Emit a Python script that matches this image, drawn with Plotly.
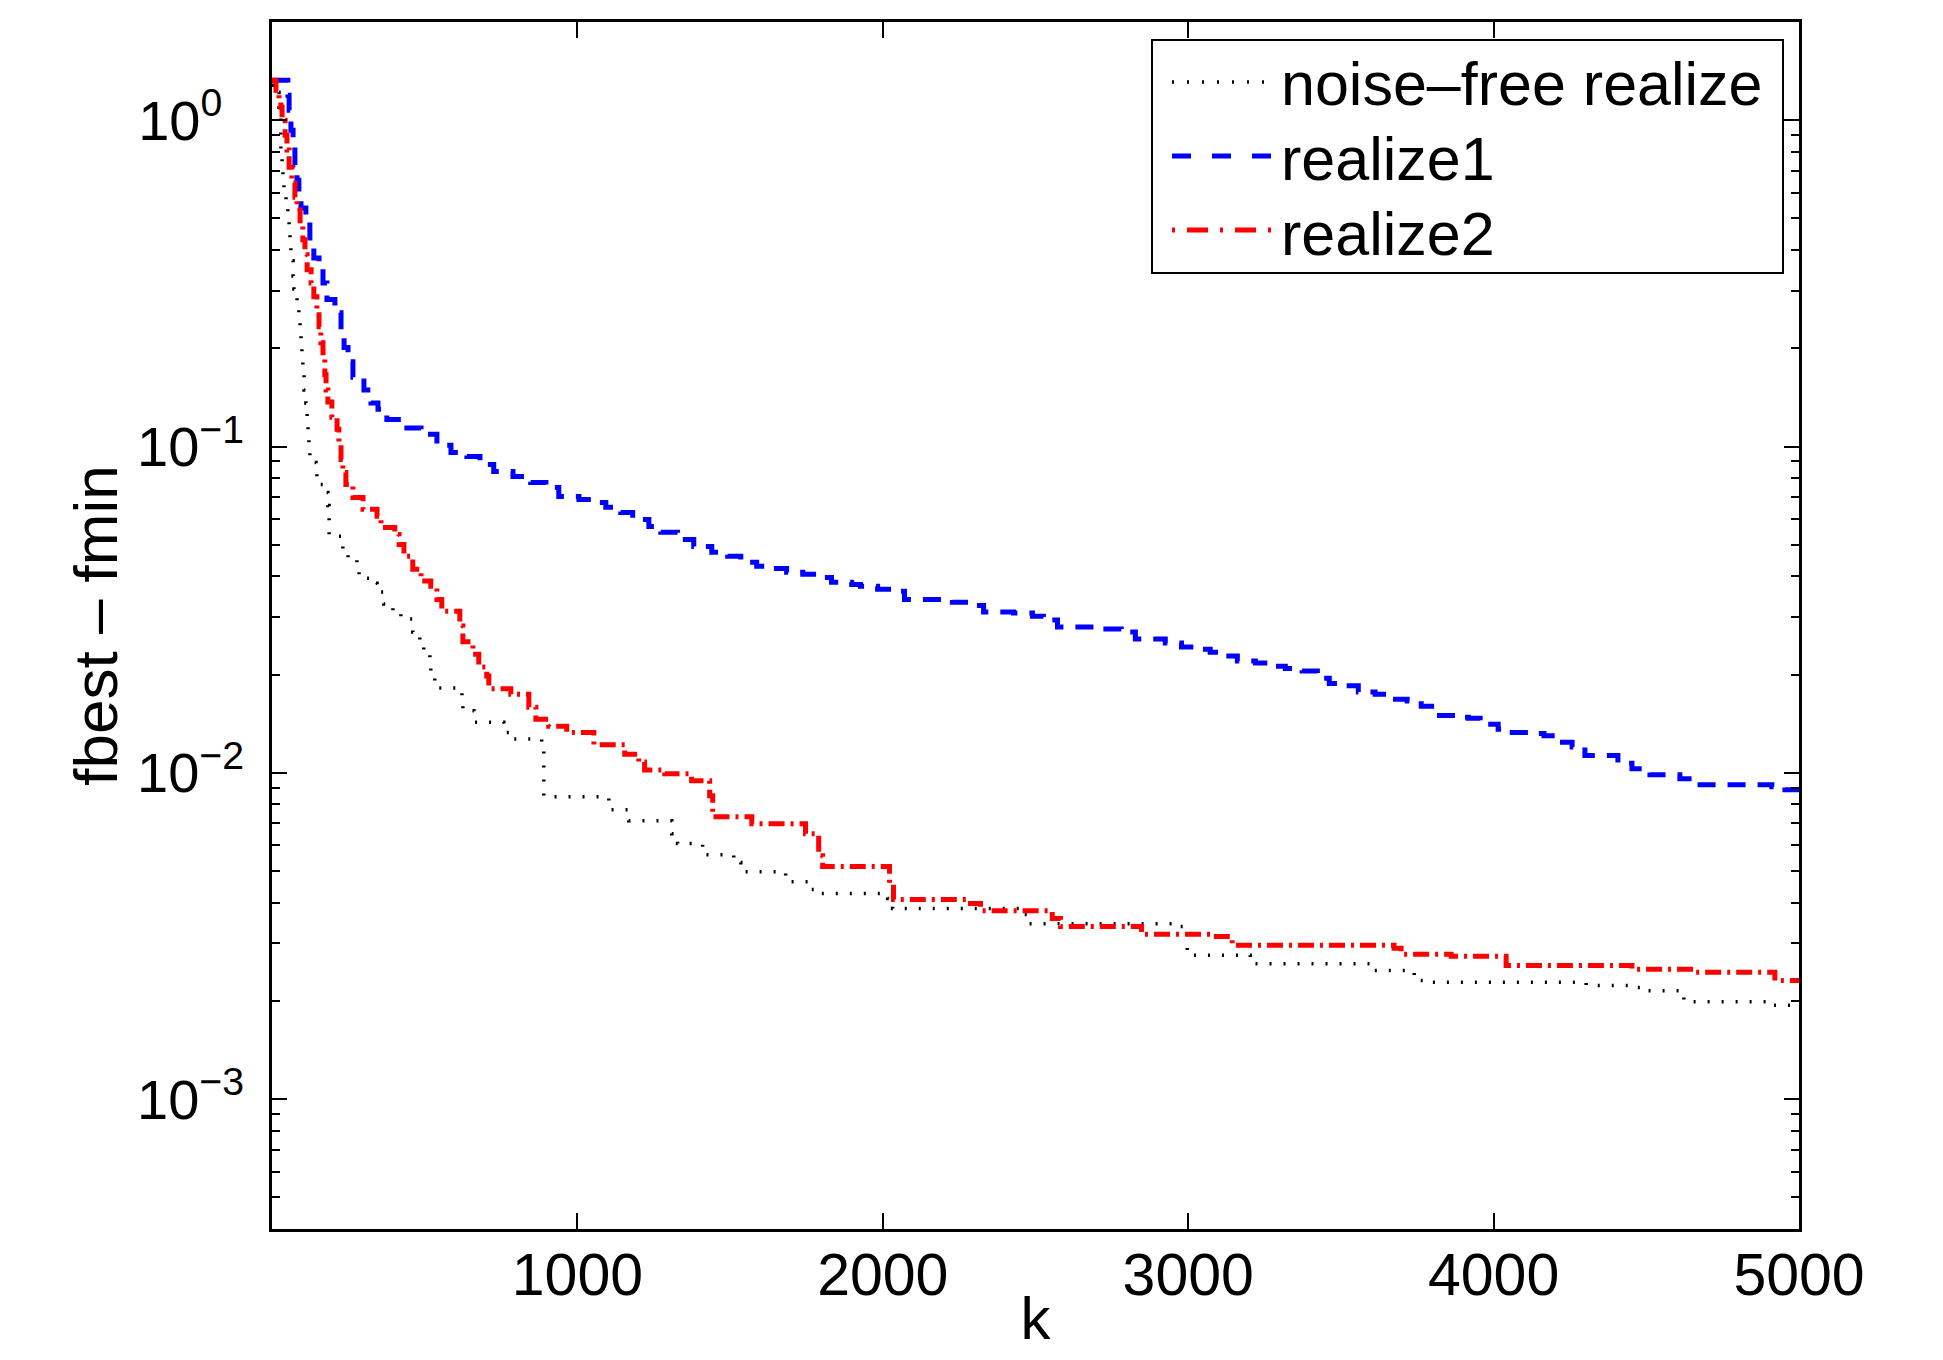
import plotly.graph_objects as go

# ---------------- data ----------------
noise_free_k = [0, 16, 23, 29, 33, 36, 39, 46, 52, 56, 59, 62, 69, 72, 82, 88, 92, 95, 98, 101,
                105, 111, 115, 118, 121, 124, 144, 147, 170, 183, 187, 226, 232, 249, 278, 285,
                321, 344, 366, 396, 422, 461, 484, 497, 517, 520, 533, 622, 625, 661, 759, 789,
                883, 890, 1103, 1168, 1309, 1328, 1410, 1512, 1535, 1682, 1701, 1760, 1796, 2016,
                2032, 2454, 2480, 2968, 2997, 3203, 3599, 3740, 3786, 4303, 4453, 4499, 4623,
                4895, 5000]
noise_free_v = [1.280, 1.218, 1.096, 0.815, 0.729, 0.655, 0.586, 0.534, 0.505, 0.455, 0.406,
                0.371, 0.333, 0.304, 0.278, 0.250, 0.226, 0.204, 0.186, 0.166, 0.149, 0.136,
                0.123, 0.110, 0.0986, 0.0894, 0.0851, 0.0765, 0.0723, 0.0660, 0.0531, 0.0519,
                0.0471, 0.0458, 0.0433, 0.0395, 0.0381, 0.0358, 0.0329, 0.0311, 0.0296, 0.0270,
                0.0255, 0.0234, 0.0218, 0.0197, 0.0182, 0.0172, 0.0155, 0.0143, 0.0133, 0.0127,
                0.0123, 0.00845, 0.00771, 0.00713, 0.00651, 0.00607, 0.00561, 0.00531, 0.00498,
                0.00484, 0.00464, 0.00439, 0.00427, 0.00412, 0.00384, 0.00368, 0.00345, 0.00338,
                0.00276, 0.00260, 0.00248, 0.00231, 0.00228, 0.00223, 0.00220, 0.00215, 0.00199,
                0.00194, 0.00194]

realize1_k = [0, 52, 56, 62, 69, 75, 82, 88, 95, 111, 124, 137, 154, 167, 180, 206, 226, 236, 249,
              265, 301, 324, 347, 376, 422, 488, 540, 586, 638, 681, 726, 789, 847, 897, 939,
              1005, 1044, 1093, 1142, 1181, 1234, 1273, 1328, 1381, 1440, 1492, 1535, 1587, 1636,
              1685, 1738, 1787, 1832, 1898, 1927, 1983, 2032, 2071, 2228, 2281, 2330, 2428, 2490,
              2526, 2572, 2722, 2781, 2827, 2925, 2978, 3023, 3072, 3115, 3161, 3220, 3269, 3318,
              3373, 3423, 3462, 3514, 3557, 3612, 3661, 3717, 3763, 3809, 3874, 3917, 3956, 4015,
              4061, 4113, 4165, 4211, 4257, 4299, 4407, 4453, 4512, 4610, 4656, 4911, 4954, 5000]
realize1_v = [1.325, 1.192, 1.073, 0.932, 0.827, 0.729, 0.655, 0.590, 0.538, 0.494, 0.424, 0.378,
              0.343, 0.317, 0.282, 0.257, 0.228, 0.201, 0.182, 0.163, 0.149, 0.136, 0.130, 0.121,
              0.114, 0.109, 0.101, 0.0959, 0.0932, 0.0881, 0.0838, 0.0810, 0.0776, 0.0749,
              0.0703, 0.0688, 0.0674, 0.0651, 0.0628, 0.0598, 0.0569, 0.0546, 0.0519, 0.0494,
              0.0474, 0.0461, 0.0442, 0.0430, 0.0423, 0.0412, 0.0406, 0.0397, 0.0384, 0.0378,
              0.0373, 0.0365, 0.0360, 0.0340, 0.0333, 0.0326, 0.0311, 0.0309, 0.0302, 0.0294,
              0.0280, 0.0276, 0.0270, 0.0257, 0.0250, 0.0243, 0.0239, 0.0234, 0.0228, 0.0220,
              0.0217, 0.0212, 0.0209, 0.0205, 0.0195, 0.0188, 0.0185, 0.0177, 0.0174, 0.0168,
              0.0166, 0.0160, 0.0150, 0.0148, 0.0147, 0.0141, 0.0136, 0.0133, 0.0132, 0.0130,
              0.0124, 0.0120, 0.0113, 0.0107, 0.0103, 0.00986, 0.00959, 0.00919, 0.00906,
              0.00887, 0.00887]

realize2_k = [0, 13, 23, 29, 33, 43, 49, 56, 65, 75, 82, 92, 101, 108, 115, 128, 137, 147, 154,
              160, 167, 173, 177, 183, 196, 213, 219, 226, 232, 242, 265, 298, 344, 357, 402, 416,
              432, 461, 488, 520, 540, 556, 615, 625, 658, 677, 703, 710, 782, 841, 864, 906, 965,
              1054, 1155, 1201, 1220, 1286, 1374, 1433, 1443, 1571, 1747, 1790, 1803, 2022, 2035,
              2274, 2320, 2555, 2582, 2847, 3072, 3144, 3674, 3697, 3861, 4041, 4453, 4659, 4921,
              5000]
realize2_v = [1.325, 1.235, 1.151, 1.096, 1.000, 0.900, 0.810, 0.718, 0.642, 0.581, 0.531, 0.478,
              0.430, 0.387, 0.348, 0.317, 0.288, 0.259, 0.233, 0.208, 0.187, 0.166, 0.149, 0.137,
              0.123, 0.113, 0.101, 0.0912, 0.0833, 0.0765, 0.0698, 0.0642, 0.0611, 0.0565,
              0.0538, 0.0501, 0.0461, 0.0421, 0.0387, 0.0373, 0.0340, 0.0313, 0.0282, 0.0252,
              0.0231, 0.0211, 0.0198, 0.0181, 0.0174, 0.0159, 0.0146, 0.0139, 0.0133, 0.0122,
              0.0114, 0.0108, 0.0102, 0.00993, 0.00945, 0.00851, 0.00733, 0.00698, 0.00651,
              0.00557, 0.00516, 0.00458, 0.00409, 0.00398, 0.00378, 0.00358, 0.00338, 0.00320,
              0.00315, 0.00296, 0.00290, 0.00278, 0.00274, 0.00257, 0.00250, 0.00245, 0.00231,
              0.00230]

series_names = ["noise\u2013free realize", "realize1", "realize2"]
x_tick_vals = [1000, 2000, 3000, 4000, 5000]
x_tick_text = ["1000", "2000", "3000", "4000", "5000"]
y_tick_vals = [1e-3, 1e-2, 1e-1, 1]
# exponents padded so that every "10" sits at the same place (MATLAB-like)
y_tick_text = ["10<sup>\u22123</sup>", "10<sup>\u22122</sup>", "10<sup>\u22121</sup>",
               "10<sup>0\u00a0\u00a0</sup>"]
x_label = "k"
y_label = "fbest \u2013 fmin"

# ---------------- styling ----------------
FONT = "Liberation Sans, Arial, Helvetica, sans-serif"
FS = 59
# the page body has an 8px margin, so the figure is sized to sit inside it
PAGE_OFF = 8
W, H = 1943 - 2 * PAGE_OFF, 1360 - 2 * PAGE_OFF
PLOT_L, PLOT_R, PLOT_T, PLOT_B = 272, 1799, 22, 1229  # plot-area edges on the page
ML = PLOT_L - PAGE_OFF
MT = PLOT_T - PAGE_OFF
MR = PAGE_OFF + W - PLOT_R
MB = PAGE_OFF + H - PLOT_B

minor_y = [m * 10.0 ** e for e in range(-4, 1) for m in range(2, 10)]
minor_y = [v for v in minor_y if 4e-4 <= v <= 2.0]

fig = go.Figure()
fig.add_trace(go.Scatter(x=noise_free_k, y=noise_free_v, mode="lines", line_shape="hv",
                         name=series_names[0], showlegend=False,
                         line=dict(color="black", width=3.5, dash="2px,12px")))
fig.add_trace(go.Scatter(x=realize1_k, y=realize1_v, mode="lines", line_shape="hv",
                         name=series_names[1], showlegend=False,
                         line=dict(color="#0000ff", width=5, dash="18px,12px")))
fig.add_trace(go.Scatter(x=realize2_k, y=realize2_v, mode="lines", line_shape="hv",
                         name=series_names[2], showlegend=False,
                         line=dict(color="#ff0000", width=5, dash="16px,6px,3px,6px")))

axis_common = dict(showline=True, linecolor="black", linewidth=2.5, mirror="allticks",
                   ticks="inside", tickcolor="black", tickwidth=1.5, showgrid=False,
                   zeroline=False, automargin=False)

fig.update_xaxes(range=[0, 5000], tickvals=x_tick_vals, ticktext=x_tick_text, ticklen=16,
                 ticklabelstandoff=-8,
                 tickfont=dict(family=FONT, size=FS, color="black"),
                 title=dict(text=x_label, font=dict(family=FONT, size=60, color="black"), standoff=38),
                 **axis_common)
fig.update_yaxes(type="log", range=[-3.39794, 0.30103], tickvals=y_tick_vals, ticktext=y_tick_text,
                 ticklen=15, ticklabelstandoff=14,
                 tickfont=dict(family=FONT, size=56, color="black"),
                 minor=dict(tickvals=minor_y, ticks="inside", ticklen=8, tickwidth=1.5, tickcolor="black"),
                 title=dict(text=y_label, font=dict(family=FONT, size=62, color="black"), standoff=0),
                 **axis_common)

# ---------------- legend (drawn as a boxed key, MATLAB style) ----------------
def px(X):
    return (X - PLOT_L) / (PLOT_R - PLOT_L)

def py(Y):
    return (PLOT_B - Y) / (PLOT_B - PLOT_T)

shapes = [dict(type="rect", xref="paper", yref="paper", x0=px(1152), x1=px(1783), y0=py(273), y1=py(40),
               line=dict(color="black", width=2), fillcolor="white", layer="above")]
legend_styles = [dict(color="black", width=3.5, dash="2px,13px"),
                 dict(color="#0000ff", width=5, dash="19px,21px"),
                 dict(color="#ff0000", width=5, dash="3px,12px,21px,12px")]
row_line_y = [82, 156, 230]
row_text_y = [84, 159, 234]
annotations = []
for name, st, ly, ty in zip(series_names, legend_styles, row_line_y, row_text_y):
    shapes.append(dict(type="line", xref="paper", yref="paper", x0=px(1172), x1=px(1271),
                       y0=py(ly), y1=py(ly), line=st, layer="above"))
    annotations.append(dict(text=name, xref="paper", yref="paper", x=px(1279), y=py(ty),
                            xanchor="left", yanchor="middle", showarrow=False,
                            font=dict(family=FONT, size=61, color="black")))

fig.update_layout(width=W, height=H, margin=dict(l=ML, r=MR, t=MT, b=MB, autoexpand=False),
                  paper_bgcolor="white", plot_bgcolor="white",
                  font=dict(family=FONT, size=FS, color="black"),
                  shapes=shapes, annotations=annotations)

fig.write_html("out.html", config={"displayModeBar": False})
